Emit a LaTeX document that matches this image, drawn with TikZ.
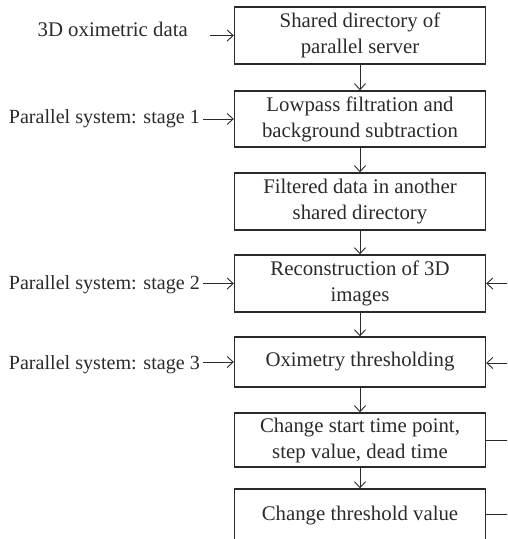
\documentclass[tikz,border=0pt]{standalone}
\usepackage{fontspec}
\setmainfont{Liberation Serif}
\usetikzlibrary{arrows.meta}
\definecolor{ink}{HTML}{2A2A2A}
\begin{document}
\begin{tikzpicture}[x=1pt,y=-1pt,
  font=\fontsize{20.8}{26}\selectfont, text=ink,
  stepbox/.style={draw=ink, line width=1.4pt, minimum width=251pt,
    align=center, inner sep=0pt},
  sidelabel/.style={anchor=base east, inner sep=0pt},
  stagelabel/.style={sidelabel, font=\fontsize{20.1}{26}\selectfont},
  arr/.style={draw=ink, line width=0.9pt,
    -{Straight Barb[length=6pt,width=11pt,line width=0.9pt]}},
  link/.style={draw=ink, line width=0.9pt}]
\useasboundingbox (0,0) rectangle (507,539);
\clip (0,0) rectangle (507,539);

% processing chain
\node[stepbox, minimum height=57pt] (b1) at (360,35.5) {Shared directory of\\parallel server};
\node[stepbox, minimum height=56pt] (b2) at (360,119) {Lowpass filtration and\\background subtraction};
\node[stepbox, minimum height=57pt] (b3) at (360,201.5) {Filtered data in another\\shared directory};
\node[stepbox, minimum height=57pt] (b4) at (360,283.5) {Reconstruction of 3D\\images};
\node[stepbox, minimum height=50pt] (b5) at (360,362) {Oximetry thresholding};
\node[stepbox, minimum height=54pt] (b6) at (360,440) {Change start time point,\\step value, dead time};
\node[stepbox, minimum height=54pt] (b7) at (360,516) {Change threshold value};

% inputs on the left
\node[sidelabel] (l0) at (188,36) {3D oximetric data};
\node[stagelabel] (l1) at (200,123) {Parallel system: stage 1};
\node[stagelabel] (l2) at (200,289) {Parallel system: stage 2};
\node[stagelabel] (l3) at (200,369) {Parallel system: stage 3};

% feedback lines leaving at the right edge
\coordinate (e4) at (510,283.5);
\coordinate (e5) at (510,363);
\coordinate (e6) at (510,440);
\coordinate (e7) at (510,514);

% vertical flow
\draw[arr] (b1) -- (b2);
\draw[arr] (b2) -- (b3);
\draw[arr] (b3) -- (b4);
\draw[arr] (b4) -- (b5);
\draw[arr] (b5) -- (b6);
\draw[arr] (b6) -- (b7);

% left inputs
\draw[arr] ([xshift=22pt]l0.east |- b1.west) -- (b1.west);
\draw[arr] ([xshift=3pt]l1.east |- b2.west) -- (b2.west);
\draw[arr] ([xshift=3pt]l2.east |- b4.west) -- (b4.west);
\draw[arr] ([xshift=3pt]l3.east |- b5.west) -- (b5.west);

% right side
\draw[arr] (e4) -- (b4.east);
\draw[arr] (e5) -- (b5.east |- e5);
\draw[link] (b6.east) -- (e6);
\draw[link] (b7.east |- e7) -- (e7);
\end{tikzpicture}
\end{document}
